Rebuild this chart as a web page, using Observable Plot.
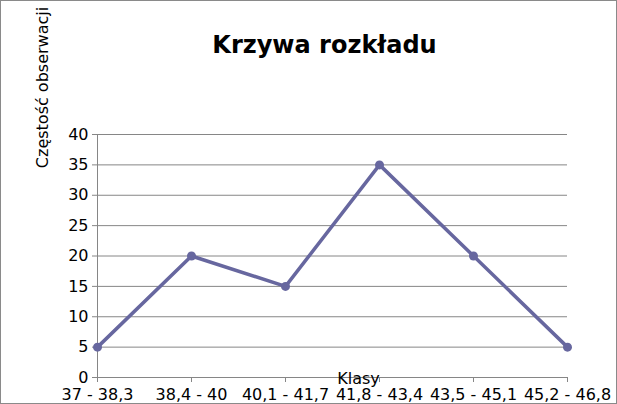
<!DOCTYPE html>
<html><head><meta charset="utf-8">
<script src="https://cdn.jsdelivr.net/npm/d3@7"></script>
<script src="https://cdn.jsdelivr.net/npm/@observablehq/plot@0.6"></script>
<style>body{margin:0;background:#fff}</style>
</head><body><div id="chart"></div>
<script>
const categories = ["37 - 38,3", "38,4 - 40", "40,1 - 41,7", "41,8 - 43,4", "43,5 - 45,1", "45,2 - 46,8"];
const values = [5, 20, 15, 35, 20, 5];
const yTicks = [0, 5, 10, 15, 20, 25, 30, 35, 40];
const title = "Krzywa rozkładu";
const yLabel = "Częstość obserwacji";
const xLabel = "Klasy";

const data = categories.map((c, i) => ({c, v: values[i]}));
const lineColor = "#67679f";
const gridColor = "#868686";

const plot = Plot.plot({
  width: 617, height: 404,
  marginLeft: 97, marginRight: 50, marginTop: 134, marginBottom: 27,
  style: {fontFamily: "DejaVu Sans", fontSize: "16px", color: "#000", background: "#fff", outline: "1px solid #8a8a8a", outlineOffset: "-1px"},
  x: {type: "point", domain: categories, padding: 0, axis: null},
  y: {domain: [0, 40], ticks: yTicks, axis: null},
  marks: [
    Plot.gridY(yTicks, {stroke: gridColor, strokeOpacity: 1}),
    Plot.ruleX([categories[0]], {stroke: gridColor}),
    Plot.axisY(yTicks, {tickSize: 5, tickPadding: 4, stroke: gridColor, fill: "#000", fontSize: 16, label: null}),
    Plot.axisX(categories, {tickSize: 5, tickPadding: 6, stroke: gridColor, fill: "#000", fontSize: 16, label: null}),
    Plot.line(data, {x: "c", y: "v", stroke: lineColor, strokeWidth: 3.5}),
    Plot.dot(data, {x: "c", y: "v", r: 4.5, fill: lineColor}),
    Plot.text([title], {frameAnchor: "top", dy: -99, dx: -8, fontSize: 24, fontWeight: "bold", fill: "#000"}),
    Plot.text([xLabel], {frameAnchor: "bottom", dy: 6, dx: 26, fontSize: 16, fill: "#000"}),
    Plot.text([yLabel], {frameAnchor: "top-left", textAnchor: "middle", lineAnchor: "middle", dx: -55, dy: -47, rotate: -90, fontSize: 16, fill: "#000"})
  ]
});
document.getElementById("chart").append(plot);
</script></body></html>
